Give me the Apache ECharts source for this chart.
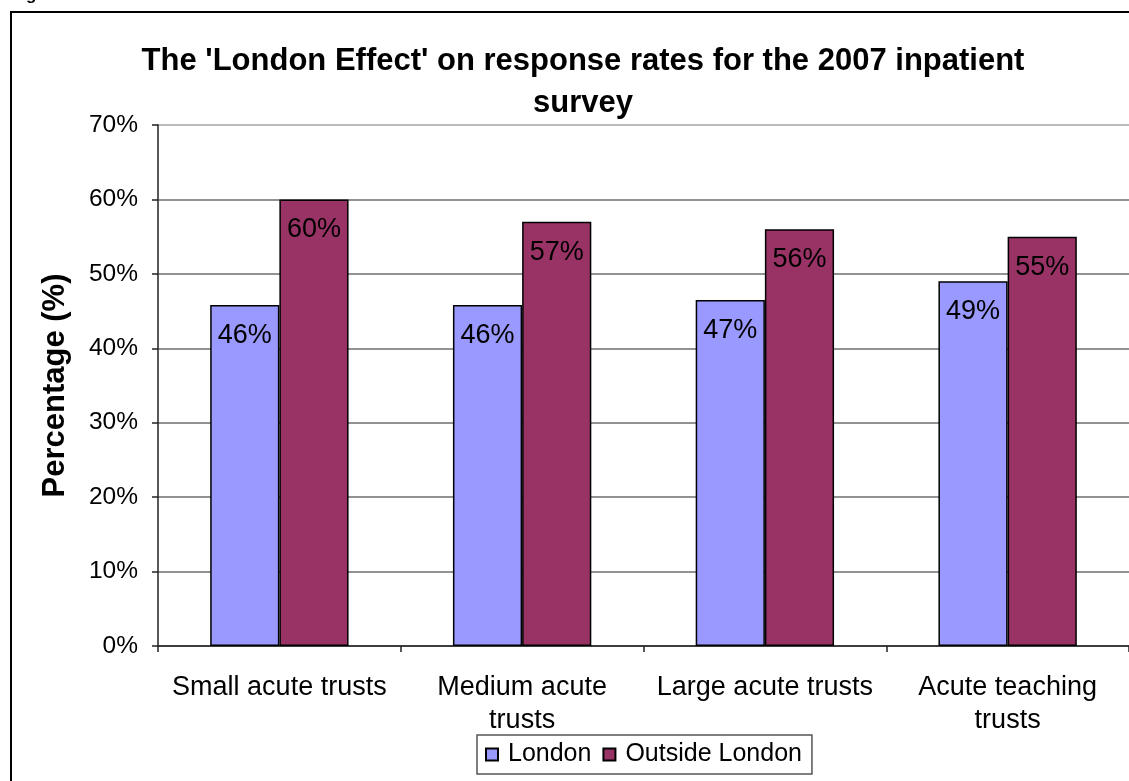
<!DOCTYPE html>
<html>
<head>
<meta charset="utf-8">
<title>The 'London Effect' on response rates</title>
<script src="https://cdn.jsdelivr.net/npm/echarts@6/dist/echarts.min.js"></script>
<style>
  html, body { margin: 0; padding: 0; background: #fff; }
  #chart { width: 1129px; height: 781px; }
</style>
</head>
<body>
<div id="chart"></div>
<script>
// Trust groups along the x axis
const categories = ['Small acute trusts', 'Medium acute\ntrusts', 'Large acute trusts', 'Acute teaching\ntrusts'];
// Response rates (%)
const londonRates = [45.8, 45.8, 46.5, 49.0];
const outsideRates = [60.0, 57.0, 56.0, 55.0];
const seriesNames = ['London', 'Outside London'];
const yTicks = [0, 10, 20, 30, 40, 50, 60, 70];

const FONT = '"Liberation Sans", Arial, sans-serif';

const chart = echarts.init(document.getElementById('chart'), null, { renderer: 'canvas' });

const barLabel = {
  show: true,
  position: 'insideTop',
  distance: 17,
  color: '#000',
  fontFamily: FONT,
  fontSize: 27,
  formatter: p => Math.round(p.value) + '%'
};

// gridlines are mid grey; the top edge of the plot is a lighter grey
const gridColors = yTicks.map((v, i) => (i === yTicks.length - 1 ? '#a6a6a6' : '#6e6e6e'));

chart.setOption({
  animation: false,
  backgroundColor: '#fff',
  title: {
    text: "The 'London Effect' on response rates for the 2007 inpatient\nsurvey",
    left: 578,
    textAlign: 'center',
    top: 35,
    textStyle: { fontFamily: FONT, fontSize: 31, fontWeight: 'bold', color: '#000', lineHeight: 42 }
  },
  graphic: [
    {
      type: 'rect',
      shape: { x: 11, y: 12, width: 1200, height: 900 },
      style: { fill: 'none', stroke: '#000', lineWidth: 2 },
      silent: true, z: 100
    },
    {
      type: 'text',
      left: 11, top: -13,
      style: { text: 'Figure', font: 'bold 17px ' + FONT, fill: '#000' },
      silent: true
    }
  ],
  legend: {
    data: seriesNames,
    left: 477,
    top: 735,
    orient: 'horizontal',
    itemWidth: 12,
    itemHeight: 12,
    itemGap: 11,
    padding: [7, 10, 7, 8],
    borderColor: '#555',
    borderWidth: 1.5,
    icon: 'rect',
    textStyle: { fontFamily: FONT, fontSize: 25, color: '#000', padding: [0, 0, 0, 5] }
  },
  grid: { left: 158, top: 125, bottom: 135, width: 987, containLabel: false },
  xAxis: {
    type: 'category',
    data: categories,
    axisLine: { lineStyle: { color: '#222', width: 1.5 } },
    axisTick: { show: true, length: 6, alignWithLabel: false, lineStyle: { color: '#222', width: 1.5 } },
    axisLabel: { fontFamily: FONT, fontSize: 27, color: '#000', margin: 25, lineHeight: 33, interval: 0 }
  },
  yAxis: {
    type: 'value',
    min: 0, max: 70, interval: 10,
    name: 'Percentage (%)',
    nameLocation: 'middle',
    nameGap: 87,
    nameRotate: 90,
    nameTextStyle: { fontFamily: FONT, fontSize: 31, fontWeight: 'bold', color: '#000' },
    axisLine: { show: true, lineStyle: { color: '#222', width: 1.5 } },
    axisTick: { show: true, length: 6, lineStyle: { color: '#222', width: 1.5 } },
    axisLabel: {
      fontFamily: FONT, fontSize: 24.5, color: '#000', margin: 20,
      formatter: v => (yTicks.includes(v) ? v + '%' : '')
    },
    splitLine: { show: true, lineStyle: { color: gridColors, width: 1.5 } }
  },
  series: [
    {
      name: seriesNames[0],
      type: 'bar',
      data: londonRates,
      barGap: '0%',
      barCategoryGap: '43%',
      itemStyle: { color: '#9999FF', borderColor: '#000', borderWidth: 1.5 },
      label: barLabel
    },
    {
      name: seriesNames[1],
      type: 'bar',
      data: outsideRates,
      itemStyle: { color: '#993366', borderColor: '#000', borderWidth: 1.5 },
      label: barLabel
    }
  ]
});
</script>
</body>
</html>
